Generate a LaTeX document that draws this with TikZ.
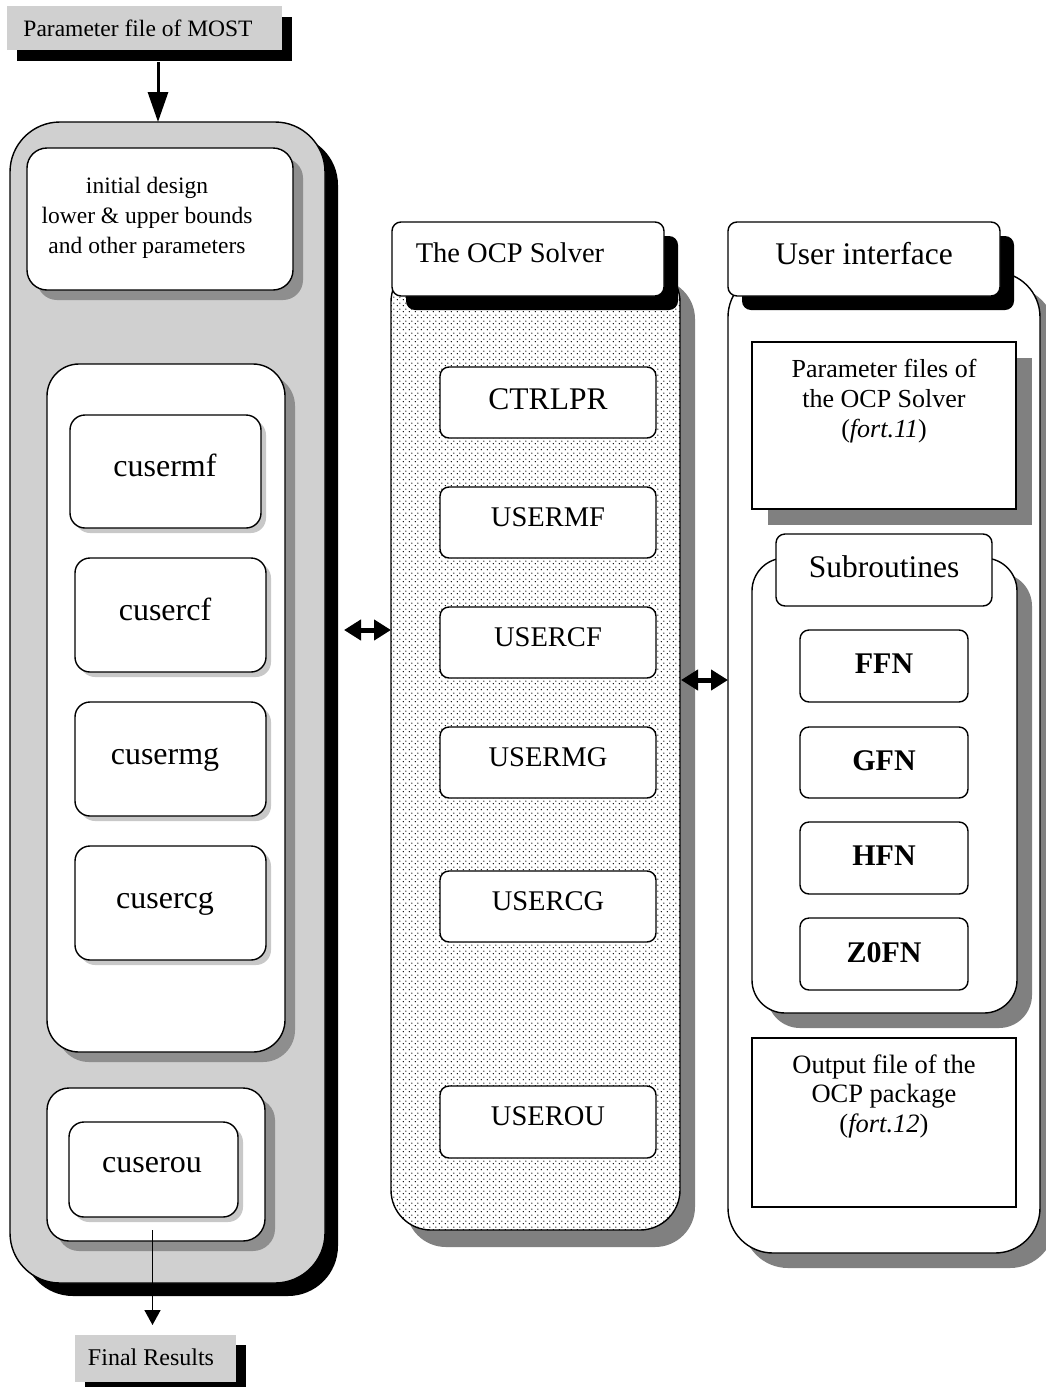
\documentclass[tikz,border=0pt]{standalone}
\usepackage{fontspec}
\setmainfont{Liberation Serif}
\usetikzlibrary{arrows.meta,fit,shadows,patterns.meta}

\definecolor{tagfill}{RGB}{208,208,208}
\definecolor{deepshade}{RGB}{128,128,128}
\definecolor{midshade}{RGB}{142,142,142}
\definecolor{softshade}{RGB}{200,200,200}

% staggered dot raster for the solver column
\tikzdeclarepattern{
  name=ocpdots,
  type=uncolored,
  bounding box={(0pt,0pt) and (6pt,6pt)},
  tile size={(6pt,6pt)},
  code={\fill (1.5pt,1.5pt) circle[radius=0.82pt] (4.5pt,4.5pt) circle[radius=0.82pt];}
}

\tikzset{
  boxline/.style={draw=black, line width=1.4pt, inner sep=0pt, outer sep=0pt},
  plainfill/.style={draw=none, inner sep=0pt, outer sep=0pt},
  castshadow/.style n args={3}{general shadow={fill=#1, shadow xshift=#2pt, shadow yshift=-#3pt}},
  fsz/.style={font=\fontsize{#1}{#1}\selectfont},
  lbl/.style={anchor=base, inner sep=0pt, outer sep=0pt},
  modbox/.style={boxline, rounded corners=9pt, fill=white},
  cbox/.style={boxline, rounded corners=15pt, fill=white, castshadow={softshade}{5}{5}},
  fnbox/.style={boxline, rounded corners=9pt, fill=white},
  headbox/.style={boxline, rounded corners=9pt, fill=white, castshadow={black}{14}{14}},
  feedarrow/.style={line width=3pt, -{Triangle[length=30pt,width=20pt]}},
  outarrow/.style={line width=1.6pt, -{Triangle[length=15pt,width=16pt]}},
  linkarrow/.style={line width=5pt, {Triangle[length=17pt,width=20pt]}-{Triangle[length=17pt,width=20pt]}},
}

\begin{document}
\begin{tikzpicture}[x=1pt, y=-1pt]
\useasboundingbox (0,0) rectangle (1046,1387);
\fill[white] (0,0) rectangle (1046,1387);

% ---------------- left column: MOST ----------------
\node (most) [plainfill, fill=tagfill, castshadow={black}{10}{11}, fit={(7,6) (282,50)}] {};
\node (mostlbl) [lbl, fsz=23.5] at (138,36) {Parameter file of MOST};

\node (mostpanel) [boxline, rounded corners=50pt, fill=tagfill, castshadow={black}{13}{13}, fit={(10,122) (325,1283)}] {};

\node (initbox) [boxline, rounded corners=20pt, fill=white, castshadow={midshade}{10}{10}, fit={(27,148) (293,290)}] {};
\node (init1) [lbl, fsz=23.5] at (147,193) {initial design};
\node (init2) [lbl, fsz=23.5] at (147,223) {lower \& upper bounds};
\node (init3) [lbl, fsz=23.5] at (147,253) {and other parameters};

\node (cpanel) [boxline, rounded corners=32pt, fill=white, castshadow={midshade}{10}{10}, fit={(47,364) (285,1052)}] {};

\node (cusermf) [cbox, fit={(70,415) (261,528)}] {};
\node (cusermflbl) [lbl, fsz=32] at (165,476) {cusermf};
\node (cusercf) [cbox, fit={(75,558) (266,672)}] {};
\node (cusercflbl) [lbl, fsz=32] at (165,620) {cusercf};
\node (cusermg) [cbox, fit={(75,702) (266,816)}] {};
\node (cusermglbl) [lbl, fsz=32] at (165,764) {cusermg};
\node (cusercg) [cbox, fit={(75,846) (266,960)}] {};
\node (cusercglbl) [lbl, fsz=32] at (165,908) {cusercg};

\node (oupanel) [boxline, rounded corners=22pt, fill=white, castshadow={midshade}{10}{10}, fit={(47,1088) (265,1241)}] {};
\node (cuserou) [cbox, fit={(69,1122) (238,1217)}] {};
\node (cuseroulbl) [lbl, fsz=32] at (152,1172) {cuserou};

\node (final) [plainfill, fill=tagfill, castshadow={black}{10}{10}, fit={(75,1335) (236,1382)}] {};
\node (finallbl) [lbl, fsz=24] at (151,1365) {Final Results};

% ---------------- middle column: the OCP solver ----------------
\node (ocppanel) [boxline, rounded corners=40pt, castshadow={deepshade}{15}{17}, preaction={fill=white}, pattern=ocpdots, pattern color=black, fit={(391,262) (680,1230)}] {};
\node (ocphead) [headbox, fit={(392,222) (664,296)}] {};
\node (ocpheadlbl) [lbl, fsz=28.5] at (510,262) {The OCP Solver};

\node (ctrlpr) [modbox, fit={(440,367) (656,438)}] {};
\node (ctrlprlbl) [lbl, fsz=31.5] at (548,409) {CTRLPR};
\node (usermf) [modbox, fit={(440,487) (656,558)}] {};
\node (usermflbl) [lbl, fsz=28.5] at (548,526) {USERMF};
\node (usercf) [modbox, fit={(440,607) (656,678)}] {};
\node (usercflbl) [lbl, fsz=28.5] at (548,646) {USERCF};
\node (usermg) [modbox, fit={(440,727) (656,798)}] {};
\node (usermglbl) [lbl, fsz=28.5] at (548,766) {USERMG};
\node (usercg) [modbox, fit={(440,871) (656,942)}] {};
\node (usercglbl) [lbl, fsz=28.5] at (548,910) {USERCG};
\node (userou) [modbox, fit={(440,1086) (656,1158)}] {};
\node (ueroulbl) [lbl, fsz=28.5] at (548,1125) {USEROU};

% ---------------- right column: user interface ----------------
\node (uipanel) [boxline, rounded corners=45pt, fill=white, castshadow={deepshade}{15}{15}, fit={(728,272) (1040,1253)}] {};
\node (uihead) [headbox, fit={(728,222) (1000,296)}] {};
\node (uiheadlbl) [lbl, fsz=31.5] at (864,264) {User interface};

\node (fortin) [boxline, fill=white, castshadow={deepshade}{16}{16}, fit={(752,342) (1016,509)}] {};
\node (fortin1) [lbl, fsz=26] at (884,377) {Parameter files of};
\node (fortin2) [lbl, fsz=26] at (884,407) {the OCP Solver};
\node (fortin3) [lbl, fsz=26] at (884,437) {(\textit{fort.11})};

\node (subpanel) [boxline, rounded corners=33pt, fill=white, castshadow={deepshade}{15}{15}, fit={(752,558) (1017,1013)}] {};
\node (subhead) [boxline, rounded corners=9pt, fill=white, fit={(776,534) (992,606)}] {};
\node (subheadlbl) [lbl, fsz=31.5] at (884,577) {Subroutines};

\node (ffn) [fnbox, fit={(800,630) (968,702)}] {};
\node (ffnlbl) [lbl, fsz=30] at (884,673) {\bfseries FFN};
\node (gfn) [fnbox, fit={(800,727) (968,798)}] {};
\node (gfnlbl) [lbl, fsz=30] at (884,770) {\bfseries GFN};
\node (hfn) [fnbox, fit={(800,822) (968,894)}] {};
\node (hfnlbl) [lbl, fsz=30] at (884,865) {\bfseries HFN};
\node (zfn) [fnbox, fit={(800,918) (968,990)}] {};
\node (zfnlbl) [lbl, fsz=30] at (884,962) {\bfseries Z0FN};

\node (fortout) [boxline, fill=white, fit={(752,1038) (1016,1207)}] {};
\node (fortout1) [lbl, fsz=26.5] at (884,1073) {Output file of the};
\node (fortout2) [lbl, fsz=26.5] at (884,1102) {OCP package};
\node (fortout3) [lbl, fsz=26.5] at (884,1132) {(\textit{fort.12})};

% ---------------- connectors ----------------
\path (most.south -| 158,0) ++(0,12) coordinate (mostout);
\draw[feedarrow] (mostout) -- (mostpanel.north -| mostout);

\path (cuserou.south) ++(-1,13) coordinate (ouout);
\draw[outarrow, shorten >=10pt] (ouout) -- (final.north -| ouout);

\path (mostpanel.east |- 0,630) ++(19,0) coordinate (linka);
\draw[linkarrow] (linka) -- (ocppanel.west |- linka);

\path (ocppanel.east |- 0,680) ++(1,0) coordinate (linkb);
\draw[linkarrow] (linkb) -- (uipanel.west |- linkb);
\end{tikzpicture}
\end{document}
